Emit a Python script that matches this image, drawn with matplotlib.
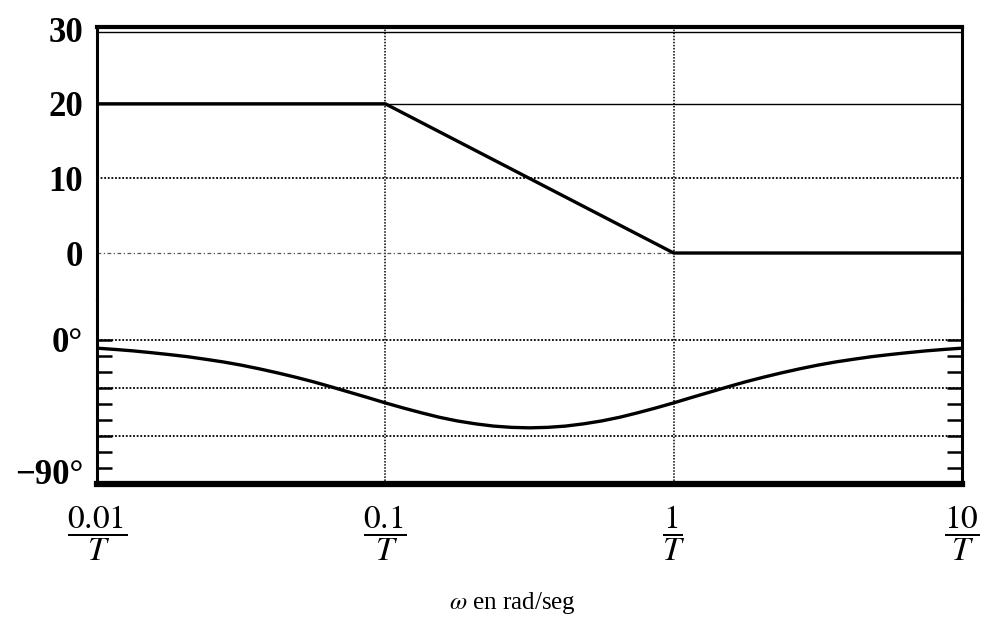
"""Diagrama de Bode asintótico (magnitud y fase) de una red de atraso."""
import matplotlib.pyplot as plt

plt.rcParams["font.family"] = ["Liberation Serif", "DejaVu Serif"]
plt.rcParams["mathtext.fontset"] = "stix"

# frecuencias normalizadas (omega*T)
w_mag = [0.01, 0.1, 1, 10]
mag_db = [20, 20, 0, 0]

w_fase = [0.01, 0.01155, 0.01334, 0.0154, 0.01778, 0.02054, 0.02371, 0.02738,
          0.03162, 0.03652, 0.04217, 0.0487, 0.05623, 0.06494, 0.07499, 0.0866,
          0.1, 0.1155, 0.1334, 0.154, 0.1778, 0.2054, 0.2371, 0.2738,
          0.3162, 0.3652, 0.4217, 0.487, 0.5623, 0.6494, 0.7499, 0.866,
          1.0, 1.155, 1.334, 1.54, 1.778, 2.054, 2.371, 2.738,
          3.162, 3.652, 4.217, 4.87, 5.623, 6.494, 7.499, 8.66, 10.0]
fase_deg = [-5.1, -5.9, -6.8, -7.9, -9.1, -10.4, -12.0, -13.7,
            -15.7, -18.0, -20.5, -23.2, -26.1, -29.3, -32.6, -35.9,
            -39.3, -42.5, -45.5, -48.3, -50.6, -52.4, -53.8, -54.6,
            -54.9, -54.6, -53.8, -52.4, -50.6, -48.3, -45.5, -42.5,
            -39.3, -35.9, -32.6, -29.3, -26.1, -23.2, -20.5, -18.0,
            -15.7, -13.7, -12.0, -10.4, -9.1, -7.9, -6.8, -5.9, -5.1]

x_ticks = [0.01, 0.1, 1, 10]
x_labels = [r"$\dfrac{0.01}{T}$", r"$\dfrac{0.1}{T}$", r"$\dfrac{1}{T}$", r"$\dfrac{10}{T}$"]
mag_ticks = [0, 10, 20, 30]
fase_ticks = [-90, -80, -70, -60, -50, -40, -30, -20, -10, 0]

fig = plt.figure(figsize=(9.92, 6.18), dpi=100)
L, R = 97 / 992, 962 / 992
ax_m = fig.add_axes([L, 1 - 300 / 618, R - L, 273 / 618])
ax_f = fig.add_axes([L, 1 - 484 / 618, R - L, 184 / 618])

for ax in (ax_m, ax_f):
    ax.set_xscale("log")
    ax.set_xlim(0.01, 10)
    ax.minorticks_off()
    for x in (0.1, 1):
        ax.axvline(x, color="black", lw=1.1, ls=(0, (1, 1)), zorder=1)
    for s in ("left", "right"):
        ax.spines[s].set_linewidth(2.2)

# --- magnitud ---
ax_m.set_ylim(-6.3, 30.3)
ax_m.spines["bottom"].set_visible(False)
ax_m.spines["top"].set_linewidth(3.0)
ax_m.axhline(29.6, color="black", lw=1.0, zorder=1)
ax_m.axhline(20, color="black", lw=1.0, zorder=1)
ax_m.axhline(10, color="black", lw=1.3, ls=(0, (1, 1)), zorder=1)
ax_m.axhline(0, color="#555555", lw=0.9, ls=(0, (3, 2, 1, 2)), zorder=1)
ax_m.plot(w_mag, mag_db, color="black", lw=2.4, zorder=3)
ax_m.set_yticks(mag_ticks)
ax_m.set_yticklabels([str(v) for v in mag_ticks], fontsize=25, fontweight="bold")
ax_m.tick_params(axis="y", length=0, pad=10)
ax_m.tick_params(axis="x", bottom=False, labelbottom=False)

# --- fase ---
ax_f.set_ylim(-90, 25)
ax_f.spines["top"].set_visible(False)
ax_f.spines["bottom"].set_linewidth(4.5)
for y in (0, -30, -60):
    ax_f.axhline(y, color="black", lw=1.3, ls=(0, (1, 1)), zorder=1)
ax_f.plot(w_fase, fase_deg, color="black", lw=2.4, zorder=3)
ax_f.set_yticks(fase_ticks)
ax_f.set_yticklabels(["\u221290\u00b0"] + [""] * 8 + ["0\u00b0"], fontsize=25, fontweight="bold")
ax_f.get_yticklabels()[0].set_va("baseline")
ax_f.tick_params(axis="y", direction="in", length=11, width=1.8, left=True, right=True, pad=10)
ax_f.set_xticks(x_ticks)
ax_f.set_xticklabels(x_labels, fontsize=24)
ax_f.tick_params(axis="x", length=0, pad=14)
ax_f.set_xlabel(r"$\omega$ en rad/seg", fontsize=18)
ax_f.xaxis.set_label_coords(0.48, -0.575)

fig.savefig("out.png", dpi=100, facecolor="white")
